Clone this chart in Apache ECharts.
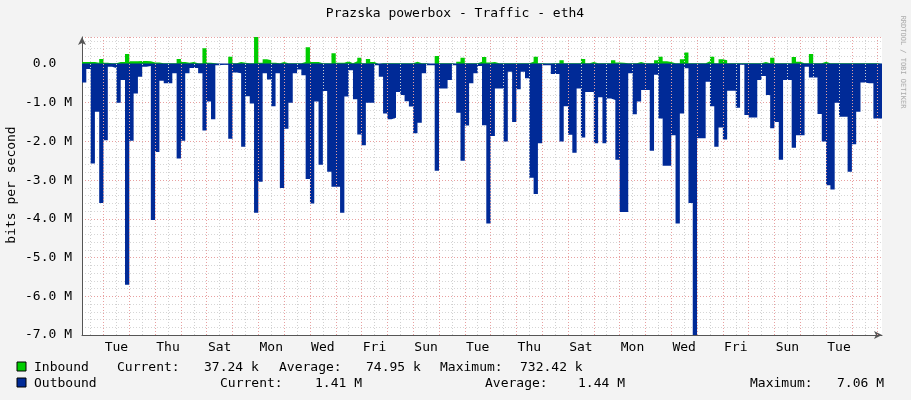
<!DOCTYPE html>
<html><head><meta charset="utf-8">
<script src="https://cdn.jsdelivr.net/npm/echarts@6/dist/echarts.min.js"></script>
<style>html,body{margin:0;padding:0;background:#f3f3f3}#c{width:911px;height:400px}</style>
</head><body><div id="c"></div>
<script>
// 4-hour steps starting Monday 04:00 (hours since Monday 00:00)
const stepHours = 4, startHour = 4;
const outbound = [0.48,0.13,2.57,1.23,3.59,1.97,0.07,0.1,1.0,0.41,5.7,1.98,0.76,0.33,0.07,0.05,4.03,2.27,0.43,0.5,0.5,0.24,2.44,1.98,0.24,0.1,0.1,0.24,1.72,0.97,1.43,0.03,0.02,0.02,1.93,0.22,0.24,2.14,0.83,1.02,3.84,3.04,0.24,0.4,1.09,0.24,3.2,1.67,1.0,0.24,0.14,0.29,2.97,3.6,0.97,2.6,0.7,2.78,3.17,3.17,3.84,0.84,
0.16,0.91,1.82,2.1,1.0,1.0,0.03,0.33,1.28,1.43,1.39,0.72,0.8,0.96,1.1,1.79,1.52,0.24,0.03,0.03,2.76,0.63,0.63,0.41,0.03,1.26,2.5,1.59,0.5,0.24,0.05,1.58,4.12,1.86,0.63,0.63,2.0,0.2,1.5,0.65,0.2,0.37,2.94,3.36,2.05,0.03,0.03,0.26,0.26,2.0,1.09,1.83,2.29,0.63,1.9,0.72,0.72,2.05,0.86,
2.05,0.89,0.93,2.47,3.82,3.82,0.24,1.3,0.97,0.67,0.67,2.24,0.28,1.41,2.63,2.63,1.84,4.12,1.28,0.11,3.59,7.06,1.92,1.92,0.46,1.09,2.14,1.64,1.95,0.69,0.69,1.13,0.01,1.32,1.38,1.38,0.41,0.31,0.8,1.66,1.5,2.47,0.41,0.41,2.16,1.84,1.84,0.07,0.35,0.35,1.29,2.0,3.13,3.24,1.0,1.36,1.36,2.78,2.07,1.23,0.48,0.5,0.5,1.41,1.41];
const inbound = [0.05,0.05,0.05,0.03,0.13,0.03,0.02,0.02,0.05,0.05,0.26,0.07,0.07,0.08,0.08,0.07,0.04,0.04,0.02,0.02,0.02,0.02,0.13,0.05,0.03,0.05,0.02,0.02,0.41,0.03,0.02,0,0,0,0.19,0.02,0.05,0.03,0.02,0.02,0.72,0.03,0.12,0.1,0.03,0.02,0.05,0.02,0.02,0.02,0.02,0.05,0.43,0.05,0.05,0.02,0.02,0.02,0.28,0.03,0.03,0.07,
0.02,0.07,0.16,0.02,0.13,0.05,0,0.02,0.02,0.02,0.02,0.02,0.02,0.02,0.02,0.06,0.02,0.02,0,0,0.21,0.02,0.02,0.02,0,0.06,0.16,0.02,0.02,0.02,0.06,0.18,0.04,0.05,0.02,0.02,0.02,0.02,0.02,0.02,0.02,0.02,0.06,0.19,0.02,0.01,0.01,0.02,0.02,0.1,0.02,0.02,0.02,0.02,0.13,0.02,0.05,0.02,0.02,
0.02,0.02,0.1,0.04,0.03,0.02,0.02,0.02,0.05,0.02,0.02,0.02,0.1,0.19,0.07,0.05,0.02,0.02,0.12,0.3,0.02,0.02,0.02,0.02,0.07,0.19,0.02,0.12,0.1,0.02,0.02,0.02,0.02,0.02,0.02,0.02,0.02,0.05,0.02,0.16,0.02,0.02,0.02,0.02,0.18,0.06,0.02,0.02,0.26,0.02,0.02,0.06,0.02,0.02,0.02,0.02,0.02,0.02,0.02,0.02,0.02,0.02,0.02,0.02,0.02];
const yTicks = [-7,-6,-5,-4,-3,-2,-1,0];
const dayNames = ['Mon','Tue','Wed','Thu','Fri','Sat','Sun'];
const legendIn = ['Inbound','Current:','37.24 k','Average:','74.95 k','Maximum:','732.42 k'];
const legendOut = ['Outbound','Current:','1.41 M','Average:','1.44 M','Maximum:','7.06 M'];

const M = 1e6;
function toSteps(arr, sign){
  const d = arr.map((v,i)=>[startHour+i*stepHours, sign*v*M]);
  d.push([startHour+arr.length*stepHours, sign*arr[arr.length-1]*M]);
  return d;
}
const endHour = startHour + outbound.length*stepHours;
const vlines = [];
for(let h=12; h<endHour; h+=12){
  vlines.push({xAxis:h, lineStyle:{color: h%24===0 ? '#e8a0a0' : '#d0d0d0', type:[1,2], width:1}});
}
const mono = 'DejaVu Sans Mono';
const F = '13px '+mono;
const chart = echarts.init(document.getElementById('c'));
function txt(x,y,t){return {type:'text',x:x,y:y,style:{text:t,font:F,fill:'#000',textAlign:'left',textVerticalAlign:'middle'}};}
const g = [
  {type:'text',x:455,y:14,style:{text:'Prazska powerbox - Traffic - eth4',font:F,fill:'#000',textAlign:'center',textVerticalAlign:'middle'}},
  {type:'text',x:12,y:185,rotation:Math.PI/2,style:{text:'bits per second',font:F,fill:'#000',textAlign:'center',textVerticalAlign:'middle'}},
  {type:'text',x:903,y:62,rotation:-Math.PI/2,style:{text:'RRDTOOL / TOBI OETIKER',font:'7px '+mono,fill:'#aaa',textAlign:'center',textVerticalAlign:'middle'}},
  {type:'rect',shape:{x:17,y:362,width:9,height:9},style:{fill:'#00cc00',stroke:'#000',lineWidth:1}},
  {type:'rect',shape:{x:17,y:378,width:9,height:9},style:{fill:'#002a97',stroke:'#000',lineWidth:1}},
  txt(34,368,legendIn[0]), txt(117,368,legendIn[1]), txt(204,368,legendIn[2]),
  txt(279,368,legendIn[3]), txt(366,368,legendIn[4]), txt(440,368,legendIn[5]), txt(520,368,legendIn[6]),
  txt(34,384,legendOut[0]), txt(220,384,legendOut[1]), txt(315,384,legendOut[2]),
  txt(485,384,legendOut[3]), txt(578,384,legendOut[4]), txt(750,384,legendOut[5]), txt(837,384,legendOut[6])
];
chart.setOption({
  backgroundColor:'#f3f3f3',
  animation:false,
  graphic:g,
  grid:{left:82,right:911-882,top:64-0.7*38.7,bottom:400-335,backgroundColor:'#fff',show:true,borderWidth:0},
  xAxis:{type:'value',min:startHour,max:endHour,interval:4,
    axisLine:{show:true,onZero:false,lineStyle:{color:'#555'},symbol:['none','arrow'],symbolSize:[6,8]},
    axisTick:{show:false},splitLine:{show:false},
    axisLabel:{fontFamily:mono,fontSize:13,color:'#000',margin:6,
      formatter:v=> ((v-36)%48===0) ? dayNames[Math.floor(v/24)%7] : ''}},
  yAxis:{type:'value',min:-7*M,max:0.7*M,interval:M,
    axisLine:{show:true,onZero:false,lineStyle:{color:'#555'},symbol:['none','arrow'],symbolSize:[6,8]},
    axisTick:{show:false},
    axisLabel:{fontFamily:mono,fontSize:13,color:'#000',margin:10,
      formatter:v=> v>0.5*M ? '' : (v===0 ? '0.0  ' : (v/M).toFixed(1)+' M')},
    splitLine:{show:true,lineStyle:{color:'#e8a0a0',type:[1,2]}},
    minorTick:{show:false,splitNumber:5},
    minorSplitLine:{show:true,lineStyle:{color:'#d6d6d6',type:[1,2]}}},
  series:[
    {type:'line',step:'end',data:toSteps(outbound,-1),symbol:'none',z:3,
      lineStyle:{width:0},areaStyle:{color:'#002a97',opacity:1},
      markLine:{silent:true,symbol:'none',label:{show:false},animation:false,data:vlines}},
    {type:'line',step:'end',data:toSteps(inbound,1),symbol:'none',z:3,
      lineStyle:{width:0},areaStyle:{color:'#00cc00',opacity:1}},
    {type:'line',data:[[startHour,0],[endHour,0]],symbol:'none',z:4,lineStyle:{color:'#002a97',width:1}}
  ]
});
</script></body></html>
